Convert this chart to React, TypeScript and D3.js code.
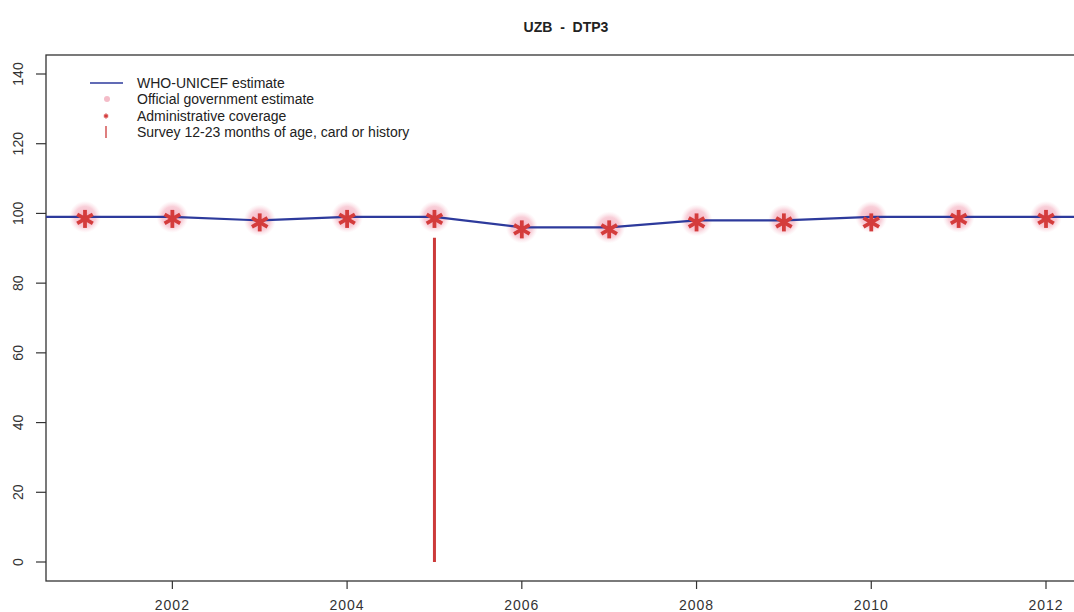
import React, { useEffect, useRef } from 'react';
import * as d3 from 'd3';

// chart data
const years = [2000, 2001, 2002, 2003, 2004, 2005, 2006, 2007, 2008, 2009, 2010, 2011, 2012, 2013];
const whoUnicef = [99, 99, 99, 98, 99, 99, 96, 96, 98, 98, 99, 99, 99, 99];
const officialYears = [2001, 2002, 2003, 2004, 2005, 2006, 2007, 2008, 2009, 2010, 2011, 2012];
const official = [99, 99, 98, 99, 99, 96, 96, 98, 98, 99, 99, 99];
const adminCoverage = [99, 99, 98, 99, 99, 96, 96, 98, 98, 98, 99, 99];
const surveyYears = [2005];
const surveyValues = [93];
const yTicks = [0, 20, 40, 60, 80, 100, 120, 140];
const xTicks = [2002, 2004, 2006, 2008, 2010, 2012];
const legendLabels = [
  'WHO-UNICEF estimate',
  'Official government estimate',
  'Administrative coverage',
  'Survey 12-23 months of age, card or history',
];

const W = 1074;
const H = 612;
const font = '"Liberation Sans", Arial, sans-serif';

const App = () => {
  const svgRef = useRef<SVGSVGElement>(null);

  useEffect(() => {
    const svg = d3.select(svgRef.current);
    svg.selectAll('*').remove();

    const box = { left: 46, top: 55, right: 1086, bottom: 581 };
    const x = d3.scaleLinear().domain([2001, 2012]).range([85, 1046]);
    const y = d3.scaleLinear().domain([0, 140]).range([562, 74]);

    const defs = svg.append('defs');
    defs.append('clipPath').attr('id', 'plotclip')
      .append('rect')
      .attr('x', box.left).attr('y', box.top)
      .attr('width', box.right - box.left).attr('height', box.bottom - box.top);
    const grad = defs.append('radialGradient').attr('id', 'pinkglow');
    grad.append('stop').attr('offset', '0%').attr('stop-color', '#f29aae').attr('stop-opacity', 0.8);
    grad.append('stop').attr('offset', '65%').attr('stop-color', '#f5b5c4').attr('stop-opacity', 0.65);
    grad.append('stop').attr('offset', '100%').attr('stop-color', '#f9d3dc').attr('stop-opacity', 0);

    // title
    svg.append('text')
      .attr('x', 566).attr('y', 32)
      .attr('text-anchor', 'middle')
      .attr('font-family', font).attr('font-weight', 'bold').attr('font-size', 14)
      .attr('fill', '#222')
      .style('white-space', 'pre')
      .text('UZB  -  DTP3');

    // frame
    svg.append('rect')
      .attr('x', box.left).attr('y', box.top)
      .attr('width', box.right - box.left).attr('height', box.bottom - box.top)
      .attr('fill', 'none').attr('stroke', '#333').attr('stroke-width', 1.3);

    // y axis ticks
    const yAxis = svg.append('g');
    yTicks.forEach((t) => {
      yAxis.append('line')
        .attr('x1', box.left - 10).attr('x2', box.left)
        .attr('y1', y(t)).attr('y2', y(t))
        .attr('stroke', '#333').attr('stroke-width', 1.2);
      yAxis.append('text')
        .attr('transform', `translate(23,${y(t)}) rotate(-90)`)
        .attr('text-anchor', 'middle')
        .attr('font-family', font).attr('font-size', 14).attr('fill', '#333')
        .text(t);
    });

    // x axis ticks
    const xAxis = svg.append('g');
    xTicks.forEach((t) => {
      xAxis.append('line')
        .attr('x1', x(t)).attr('x2', x(t))
        .attr('y1', box.bottom).attr('y2', box.bottom + 8)
        .attr('stroke', '#333').attr('stroke-width', 1.2);
      xAxis.append('text')
        .attr('x', x(t)).attr('y', 610)
        .attr('text-anchor', 'middle')
        .attr('font-family', font).attr('font-size', 14).attr('fill', '#333')
        .attr('letter-spacing', 1)
        .text(t);
    });

    const plot = svg.append('g').attr('clip-path', 'url(#plotclip)');

    // official government estimate (pink blobs)
    plot.selectAll('circle.official')
      .data(officialYears)
      .enter().append('circle')
      .attr('cx', (d) => x(d))
      .attr('cy', (d, i) => y(official[i]))
      .attr('r', 16)
      .attr('fill', 'url(#pinkglow)');

    // WHO-UNICEF line
    const line = d3.line<number>()
      .x((d) => x(d))
      .y((d, i) => y(whoUnicef[i]));
    plot.append('path')
      .datum(years)
      .attr('d', line)
      .attr('fill', 'none')
      .attr('stroke', '#2d3a9c')
      .attr('stroke-width', 2.2);

    // survey
    surveyYears.forEach((yr, i) => {
      plot.append('line')
        .attr('x1', x(yr)).attr('x2', x(yr))
        .attr('y1', y(0)).attr('y2', y(surveyValues[i]))
        .attr('stroke', '#cc3a3a').attr('stroke-width', 3);
    });

    // admin coverage asterisks
    const star = (g: any, cx: number, cy: number, r: number, sw: number) => {
      const s = g.append('g').attr('transform', `translate(${cx},${cy})`);
      [0, 60, 120].forEach((a) => {
        const rad = (a * Math.PI) / 180;
        s.append('line')
          .attr('x1', -r * Math.sin(rad)).attr('y1', -r * Math.cos(rad))
          .attr('x2', r * Math.sin(rad)).attr('y2', r * Math.cos(rad))
          .attr('stroke', '#d43c3c').attr('stroke-width', sw).attr('stroke-linecap', 'butt');
      });
    };
    officialYears.forEach((yr, i) => {
      star(plot, x(yr), y(adminCoverage[i]) + 2, 9, 3.8);
    });

    // legend
    const lg = svg.append('g');
    const rowY = [83, 99, 116, 132];
    lg.append('line')
      .attr('x1', 90).attr('x2', 123).attr('y1', rowY[0]).attr('y2', rowY[0])
      .attr('stroke', '#2d3a9c').attr('stroke-width', 1.5);
    lg.append('circle').attr('cx', 107).attr('cy', rowY[1]).attr('r', 3)
      .attr('fill', '#f4bcc8');
    star(lg, 106, rowY[2], 2.5, 1.4);
    lg.append('line')
      .attr('x1', 106).attr('x2', 106).attr('y1', rowY[3] - 6).attr('y2', rowY[3] + 6)
      .attr('stroke', '#cc3a3a').attr('stroke-width', 1.3);
    legendLabels.forEach((l, i) => {
      lg.append('text')
        .attr('x', 137).attr('y', rowY[i] + 5)
        .attr('font-family', font).attr('font-size', 14).attr('fill', '#222')
        .text(l);
    });
  }, []);

  return (
    <svg
      ref={svgRef}
      width={W}
      height={H}
      style={{ position: 'absolute', left: 0, top: 0, background: '#fff' }}
    ></svg>
  );
};

export default App;
